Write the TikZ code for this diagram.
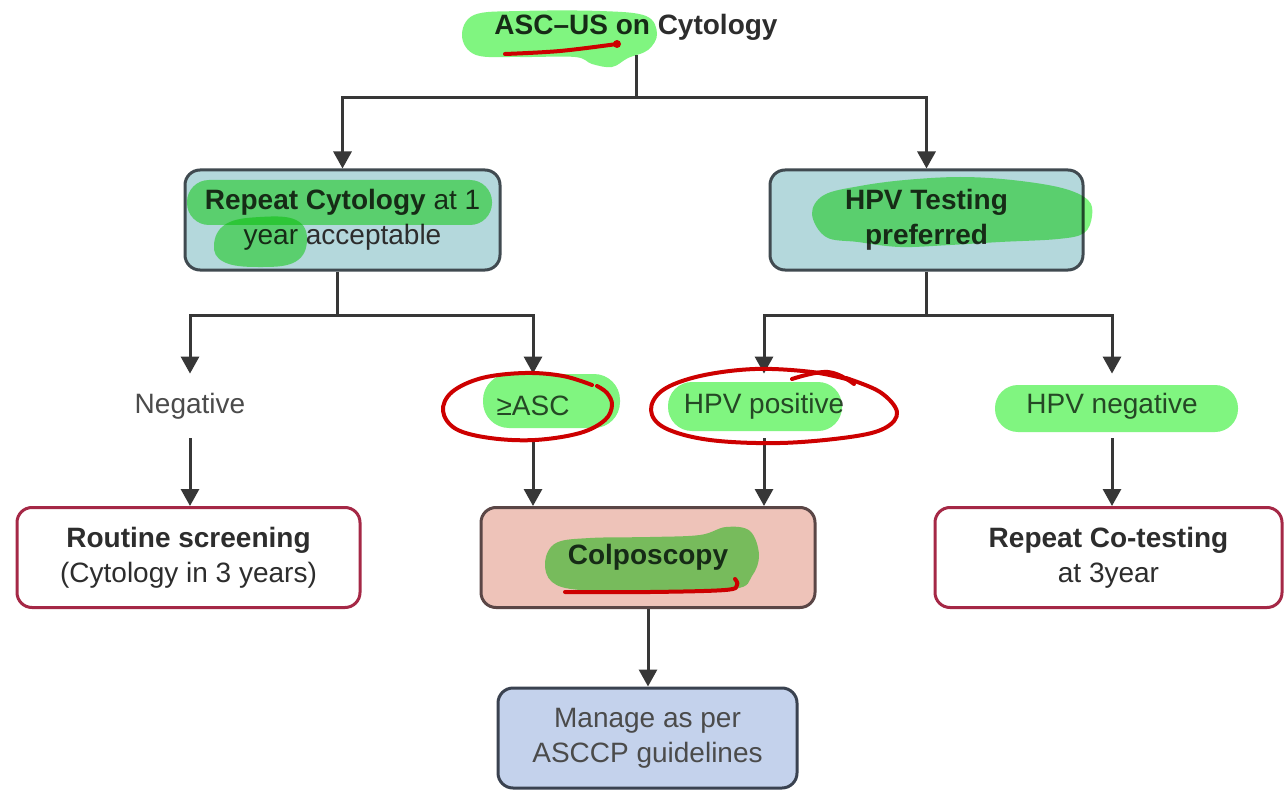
\documentclass[tikz,border=0pt]{standalone}
\usepackage{fontspec}
\setmainfont{Liberation Sans}
\usetikzlibrary{arrows.meta}

\definecolor{ink}{RGB}{45,45,45}
\definecolor{softink}{RGB}{75,75,75}
\definecolor{linegray}{RGB}{55,55,55}
\definecolor{tealfill}{RGB}{180,216,220}
\definecolor{tealedge}{RGB}{64,74,80}
\definecolor{salmonfill}{RGB}{238,195,185}
\definecolor{salmonedge}{RGB}{90,70,70}
\definecolor{crimson}{RGB}{165,40,70}
\definecolor{bluefill}{RGB}{196,210,236}
\definecolor{blueedge}{RGB}{58,66,80}
\definecolor{hlgreen}{RGB}{128,245,128}
\definecolor{penred}{RGB}{205,0,0}

\begin{document}
\begin{tikzpicture}[x=0.5pt,y=-0.5pt,
  txt/.style={font=\fontsize{14}{17.5}\selectfont, align=center, text=ink, inner sep=0pt},
  box/.style={txt, rounded corners=7.5pt, line width=1.5pt, minimum height=50pt},
  tealbox/.style={box, draw=tealedge, fill=tealfill},
  whitebox/.style={box, draw=crimson, fill=white},
  salmonbox/.style={box, draw=salmonedge, fill=salmonfill},
  bluebox/.style={box, draw=blueedge, fill=bluefill, text=softink},
  lbl/.style={txt, text=softink, minimum height=32pt},
  conn/.style={draw=linegray, line width=1.5pt},
  arr/.style={conn, -{Triangle[width=9pt,length=8.5pt]}},
  hl/.style={fill=hlgreen, draw=none},
  pen/.style={draw=penred, line width=2pt, line cap=round, line join=round}]

\fill[white] (0,0) rectangle (1284,791);
\useasboundingbox (0,0) rectangle (1284,791);

% title
\node[txt, font=\fontsize{14}{17.5}\selectfont\bfseries, minimum height=28pt] (title) at (636,27) {ASC–US on Cytology};

% first level
\node[tealbox, minimum width=157.5pt] (rc) at (342.5,220) {\textbf{Repeat Cytology} at 1\\year acceptable};
\node[tealbox, minimum width=156.5pt] (hpv) at (926.5,220) {\textbf{HPV Testing}\\\textbf{preferred}};

% result labels
\node[lbl] (neg) at (190,406) {Negative};
\node[lbl] (asc) at (533,406) {≥ASC};
\node[lbl] (hpvpos) at (764,406) {HPV positive};
\node[lbl] (hpvneg) at (1112,406) {HPV negative};

% outcome boxes
\node[whitebox, minimum width=171.5pt] (routine) at (188.5,557.5) {\textbf{Routine screening}\\(Cytology in 3 years)};
\node[salmonbox, minimum width=167pt] (colpo) at (648,557.5) {\textbf{Colposcopy}};
\node[whitebox, minimum width=173.5pt] (cotest) at (1108.5,557.5) {\textbf{Repeat Co-testing}\\at 3year};
\node[bluebox, minimum width=149.5pt] (manage) at (647.5,738) {Manage as per\\ASCCP guidelines};

% junction points of the tree
\coordinate (j0) at (636,98);
\coordinate (j1) at (337,315);
\coordinate (j2) at (926.5,315);

\draw[conn] (title.south) -- (j0);
\draw[arr] (j0) -| (rc.north);
\draw[arr] (j0) -| (hpv.north);

\draw[conn] (rc.south -| j1) -- (j1);
\draw[arr] (j1) -| (neg.north);
\draw[arr] (j1) -| (asc.north);

\draw[conn] (hpv.south) -- (j2);
\draw[arr] (j2) -| (hpvpos.north);
\draw[arr] (j2) -| (hpvneg.north);

\draw[arr] (neg.south) -- (neg.south |- routine.north);
\draw[arr] (asc.south) -- (asc.south |- colpo.north);
\draw[arr] (hpvpos.south) -- (hpvpos.south |- colpo.north);
\draw[arr] (hpvneg.south) -- (hpvneg.south |- cotest.north);
\draw[arr] (colpo.south) -- (colpo.south |- manage.north);

% highlighter marks
\begin{scope}[blend mode=multiply]
  \fill[hl] plot[smooth cycle, tension=0.6] coordinates {
    (462,36) (474,15) (520,11) (600,11) (646,16) (657,34) (648,50) (628,58)
    (612,67) (592,64) (575,57) (520,57) (476,55)};
  \fill[hl, rounded corners=11pt] (187,180) rectangle (492,225);
  \fill[hl] plot[smooth cycle, tension=0.7] coordinates {
    (214,245) (226,224) (260,217) (296,220) (307,240) (295,262) (258,267) (224,262)};
  \fill[hl] plot[smooth cycle, tension=0.6] coordinates {
    (812,214) (824,195) (860,186) (905,180) (960,177) (1012,180) (1062,188)
    (1088,200) (1092,216) (1084,233) (1058,239) (1000,242) (950,245)
    (900,247) (858,242) (826,237)};
  \fill[hl, rounded corners=13pt] (483,374) rectangle (620,428);
  \fill[hl, rounded corners=12pt] (668,382) rectangle (842,431);
  \fill[hl, rounded corners=11.5pt] (995,385) rectangle (1238,432);
  \fill[hl] plot[smooth cycle, tension=0.6] coordinates {
    (545,562) (556,543) (590,538) (650,537) (700,535) (726,527) (750,531)
    (759,555) (752,576) (734,589) (650,591) (580,590) (552,582)};
\end{scope}

% pen marks
\draw[pen] plot[smooth, tension=0.6] coordinates {(505,54) (560,51) (617,44)};
\fill[penred] (617,44) circle (2pt);
\draw[pen] plot[smooth, tension=0.6] coordinates {
  (592,385) (563,376) (525,373) (482,378) (452,392) (443,411) (456,429)
  (490,438) (535,440) (580,433) (605,420) (612,405) (607,393) (597,386)};
\draw[pen] plot[smooth, tension=0.6] coordinates {
  (846,378) (880,392) (897,412) (885,428) (850,437) (780,443) (710,440)
  (665,428) (651,410) (663,390) (700,376) (755,369) (812,372) (850,380)};
\draw[pen] plot[smooth, tension=0.7] coordinates {(792,379) (828,372) (854,384)};
\draw[pen] plot[smooth, tension=0.6] coordinates {
  (565,592) (650,592) (725,590) (737,585) (735,579)};

\end{tikzpicture}
\end{document}
